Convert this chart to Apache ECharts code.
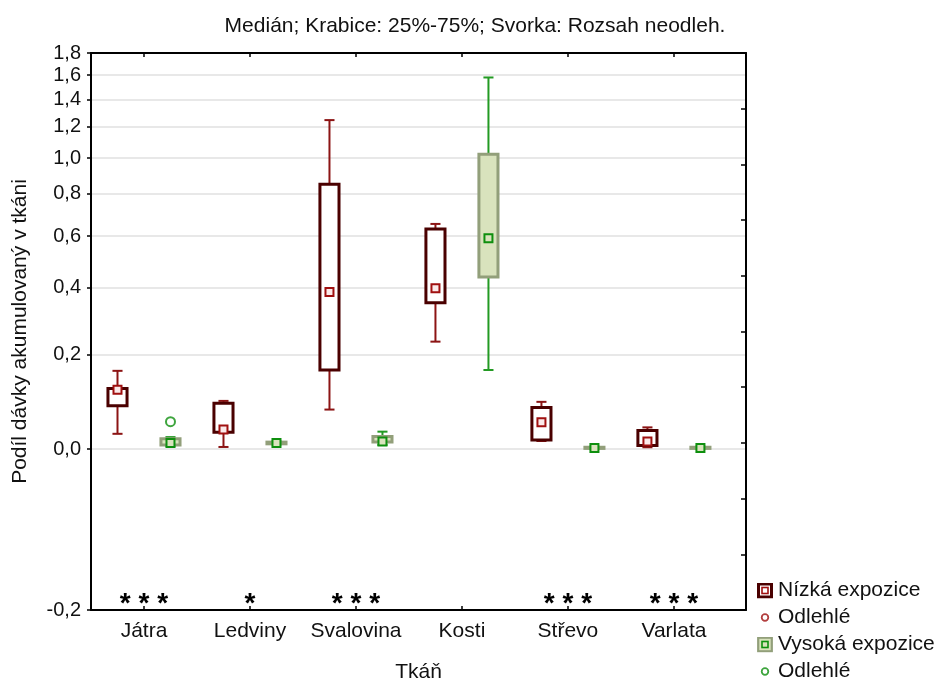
<!DOCTYPE html>
<html>
<head>
<meta charset="utf-8">
<script src="https://cdn.jsdelivr.net/npm/echarts@6/dist/echarts.min.js"></script>
<style>
html,body{margin:0;padding:0;background:#fff;}
#chart{width:939px;height:679px;}
</style>
</head>
<body>
<div id="chart"></div>
<script>
// ---- data ----
const categories = ['Játra', 'Ledviny', 'Svalovina', 'Kosti', 'Střevo', 'Varlata'];
const yTicks = [-0.2, 0.0, 0.2, 0.4, 0.6, 0.8, 1.0, 1.2, 1.4, 1.6, 1.8];

// Nízká expozice: min, Q1, median, Q3, max (non-outlier range)
const lowMin = [0.027, 0.0035, 0.074, 0.235, 0.014, 0.003];
const lowQ1  = [0.082, 0.030, 0.162, 0.351, 0.016, 0.006];
const lowMed = [0.116, 0.035, 0.386, 0.399, 0.049, 0.013];
const lowQ3  = [0.119, 0.087, 0.851, 0.631, 0.078, 0.033];
const lowMax = [0.160, 0.092, 1.248, 0.654, 0.090, 0.039];
const lowOutliers = [];

// Vysoká expozice
const highMin = [0.005, 0.008, 0.007, 0.162, 0.000, 0.000];
const highQ1  = [0.007, 0.009, 0.012, 0.439, 0.001, 0.001];
const highMed = [0.0105, 0.0105, 0.013, 0.591, 0.0017, 0.0017];
const highQ3  = [0.018, 0.012, 0.022, 1.022, 0.003, 0.003];
const highMax = [0.021, 0.013, 0.031, 1.580, 0.004, 0.004];
const highOutliers = [[0, 0.050]]; // [category index, value]

const stars = ['***', '*', '***', '', '***', '***'];

// ---- axis transform (log(y + 0.4)) ----
const OFF = 0.4;
const t = v => Math.log(v + OFF);
const inv = v => Math.exp(v) - OFF;

const FONT = 'Liberation Sans, Arial, sans-serif';

function boxData(mins, q1s, meds, q3s, maxs, shift) {
  return categories.map((c, i) => [i + 1 + shift, t(mins[i]), t(q1s[i]), t(meds[i]), t(q3s[i]), t(maxs[i])]);
}

function makeRender(st) {
  return function (params, api) {
    const x = api.value(0);
    const lo = api.coord([x, api.value(1)]);
    const q1 = api.coord([x, api.value(2)]);
    const md = api.coord([x, api.value(3)]);
    const q3 = api.coord([x, api.value(4)]);
    const hi = api.coord([x, api.value(5)]);
    const bw = api.size([0.18, 0])[0];
    const cw = api.size([0.095, 0])[0];
    const cx = lo[0];
    const wl = {stroke: st.whisker, lineWidth: 2};
    const children = [
      {type: 'line', shape: {x1: cx, y1: hi[1], x2: cx, y2: q3[1]}, style: wl},
      {type: 'line', shape: {x1: cx, y1: q1[1], x2: cx, y2: lo[1]}, style: wl},
      {type: 'line', shape: {x1: cx - cw / 2, y1: hi[1], x2: cx + cw / 2, y2: hi[1]}, style: wl},
      {type: 'line', shape: {x1: cx - cw / 2, y1: lo[1], x2: cx + cw / 2, y2: lo[1]}, style: wl},
      {type: 'rect', shape: {x: cx - bw / 2, y: q3[1], width: bw, height: Math.max(q1[1] - q3[1], 0.5)},
        style: {fill: st.fill, stroke: st.border, lineWidth: 3}},
      {type: 'rect', shape: {x: cx - 4, y: md[1] - 4, width: 8, height: 8},
        style: {fill: st.medFill, stroke: st.med, lineWidth: 2}}
    ];
    return {type: 'group', children: children};
  };
}

const redSt = {whisker: '#8c1414', border: '#4a0000', fill: '#ffffff', med: '#a01010', medFill: '#fbeaea'};
const greenSt = {whisker: '#239a23', border: '#929f7a', fill: '#d9e3bd', med: '#0e8f0e', medFill: '#d9e3bd'};

function svgIcon(svg) {
  return 'image://data:image/svg+xml;charset=utf-8,' + encodeURIComponent(svg);
}
const iconRed = svgIcon("<svg xmlns='http://www.w3.org/2000/svg' width='16' height='16'><rect x='1.5' y='1.5' width='13' height='13' fill='#fff' stroke='#4a0000' stroke-width='3'/><rect x='5' y='5' width='6' height='6' fill='#fff' stroke='#a01010' stroke-width='1.6'/></svg>");
const iconGreen = svgIcon("<svg xmlns='http://www.w3.org/2000/svg' width='16' height='16'><rect x='1.2' y='1.2' width='13.6' height='13.6' fill='#d9e3bd' stroke='#929f7a' stroke-width='2.2'/><rect x='5' y='5' width='6' height='6' fill='#d9e3bd' stroke='#0e8f0e' stroke-width='1.6'/></svg>");
const iconRedC = svgIcon("<svg xmlns='http://www.w3.org/2000/svg' width='16' height='16'><circle cx='8' cy='8' r='3.3' fill='#fff' stroke='#a01010' stroke-width='1.8'/></svg>");
const iconGreenC = svgIcon("<svg xmlns='http://www.w3.org/2000/svg' width='16' height='16'><circle cx='8' cy='8' r='3.3' fill='#fff' stroke='#0e8f0e' stroke-width='1.8'/></svg>");

const X_MIN = 0.5, X_MAX = 6.68;
const catTicks = categories.map((c, i) => i + 1);

const chart = echarts.init(document.getElementById('chart'), null, {renderer: 'canvas'});
chart.setOption({
  animation: false,
  backgroundColor: '#ffffff',
  textStyle: {fontFamily: FONT},
  title: {
    text: 'Medián; Krabice: 25%-75%; Svorka: Rozsah neodleh.',
    left: 475, top: 16, textAlign: 'center', padding: 0,
    textStyle: {fontSize: 21, fontWeight: 'normal', color: '#111', fontFamily: FONT}
  },
  grid: {left: 91, right: 193, top: 53, bottom: 69, containLabel: false, outerBoundsMode: 'none'},
  legend: {
    orient: 'vertical', left: 757, top: 580, width: 180, height: 130,
    itemWidth: 16, itemHeight: 16, itemGap: 6, itemTextGap: 8, padding: 0,
    textStyle: {fontSize: 21, lineHeight: 20, color: '#111', fontFamily: FONT},
    formatter: n => n.replace(/ \([NV]\)$/, ''),
    data: [
      {name: 'Nízká expozice', icon: iconRed},
      {name: 'Odlehlé (N)', icon: iconRedC},
      {name: 'Vysoká expozice', icon: iconGreen},
      {name: 'Odlehlé (V)', icon: iconGreenC}
    ]
  },
  xAxis: [
    {
      type: 'value', position: 'bottom', min: X_MIN, max: X_MAX,
      name: 'Tkáň', nameLocation: 'middle', nameGap: 52,
      nameTextStyle: {fontSize: 21, color: '#111', fontFamily: FONT},
      axisLine: {show: true, onZero: false, lineStyle: {color: '#000', width: 2}},
      axisTick: {show: true, inside: true, length: 4, customValues: catTicks, lineStyle: {color: '#000', width: 1.5}},
      axisLabel: {show: true, customValues: catTicks, margin: 11, fontSize: 21, color: '#111', fontFamily: FONT,
        formatter: v => categories[Math.round(v) - 1] || ''},
      splitLine: {show: false}
    },
    {
      type: 'value', position: 'top', min: X_MIN, max: X_MAX,
      axisLine: {show: true, onZero: false, lineStyle: {color: '#000', width: 2}},
      axisTick: {show: true, inside: true, length: 4, customValues: catTicks, lineStyle: {color: '#000', width: 1.5}},
      axisLabel: {show: false},
      splitLine: {show: false}
    }
  ],
  yAxis: [
    {
      type: 'value', position: 'left', min: t(yTicks[0]), max: t(yTicks[yTicks.length - 1]),
      name: 'Podíl dávky akumulovaný v tkáni', nameLocation: 'middle', nameGap: 60,
      nameTextStyle: {fontSize: 21, color: '#111', fontFamily: FONT},
      axisLine: {show: true, onZero: false, lineStyle: {color: '#000', width: 2}},
      axisTick: {show: true, inside: false, length: 4, customValues: yTicks.map(t), lineStyle: {color: '#000', width: 1.5}},
      axisLabel: {show: true, customValues: yTicks.map(t), margin: 10, fontSize: 20, color: '#111', fontFamily: FONT,
        formatter: v => { let r = Math.round(inv(v) * 10) / 10; if (Math.abs(r) < 1e-9) r = 0; return r.toFixed(1).replace('.', ','); }},
      splitLine: {show: true, lineStyle: {color: '#e0e0e0', width: 1.5}}
    },
    {
      type: 'value', position: 'right', min: 0, max: 10, interval: 1,
      axisLine: {show: true, onZero: false, lineStyle: {color: '#000', width: 2}},
      axisTick: {show: true, inside: true, length: 5, lineStyle: {color: '#000', width: 1.5}},
      axisLabel: {show: false},
      splitLine: {show: false}
    }
  ],
  series: [
    {
      name: 'Nízká expozice', type: 'custom', xAxisIndex: 0, yAxisIndex: 0,
      renderItem: makeRender(redSt),
      encode: {x: 0, y: [1, 2, 3, 4, 5]},
      itemStyle: {color: '#4a0000'},
      data: boxData(lowMin, lowQ1, lowMed, lowQ3, lowMax, -0.25), z: 3
    },
    {
      name: 'Odlehlé (N)', type: 'scatter', xAxisIndex: 0, yAxisIndex: 0,
      symbol: 'circle', symbolSize: 9,
      itemStyle: {color: '#fff', borderColor: '#a01010', borderWidth: 2},
      data: lowOutliers.map(o => [o[0] + 1 - 0.25, t(o[1])]), z: 4
    },
    {
      name: 'Vysoká expozice', type: 'custom', xAxisIndex: 0, yAxisIndex: 0,
      renderItem: makeRender(greenSt),
      encode: {x: 0, y: [1, 2, 3, 4, 5]},
      itemStyle: {color: '#929f7a'},
      data: boxData(highMin, highQ1, highMed, highQ3, highMax, 0.25), z: 3
    },
    {
      name: 'Odlehlé (V)', type: 'scatter', xAxisIndex: 0, yAxisIndex: 0,
      symbol: 'circle', symbolSize: 9,
      itemStyle: {color: '#fff', borderColor: '#0e8f0e', borderWidth: 2},
      data: highOutliers.map(o => [o[0] + 1 + 0.25, t(o[1])]), z: 4
    },
    {
      name: 'stars', type: 'custom', xAxisIndex: 0, yAxisIndex: 0, silent: true,
      renderItem: function (params, api) {
        const p = api.coord([api.value(0), t(yTicks[0])]);
        return {type: 'text', x: p[0], y: p[1] - 6,
          style: {text: stars[params.dataIndex].split('').join(' '), fill: '#000', align: 'center', verticalAlign: 'middle',
            font: 'bold 28px Liberation Sans, Arial, sans-serif'}};
      },
      data: categories.map((c, i) => [i + 1]), z: 5
    }
  ]
});
</script>
</body>
</html>
